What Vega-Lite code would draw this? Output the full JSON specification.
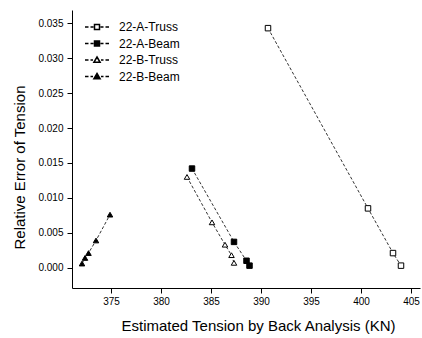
{
  "$schema": "https://vega.github.io/schema/vega-lite/v6.json",
  "width": 348,
  "height": 278,
  "autosize": "none",
  "padding": {"left": 72, "top": 10, "right": 2, "bottom": 50},
  "background": "white",
  "config": {
    "view": {"stroke": null},
    "font": "Liberation Sans",
    "axis": {"grid": false, "domainColor": "black", "tickColor": "black", "labelColor": "black", "titleColor": "black", "titleFontWeight": "normal"}
  },
  "data": {"values": [
    {"series": "22-A-Truss", "x": 390.7, "y": 0.0343},
    {"series": "22-A-Truss", "x": 400.7, "y": 0.0085},
    {"series": "22-A-Truss", "x": 403.2, "y": 0.0021},
    {"series": "22-A-Truss", "x": 404.0, "y": 0.0003},
    {"series": "22-A-Beam", "x": 383.1, "y": 0.0142},
    {"series": "22-A-Beam", "x": 387.3, "y": 0.0037},
    {"series": "22-A-Beam", "x": 388.55, "y": 0.0010},
    {"series": "22-A-Beam", "x": 388.85, "y": 0.0003},
    {"series": "22-B-Truss", "x": 382.6, "y": 0.0130},
    {"series": "22-B-Truss", "x": 385.1, "y": 0.0065},
    {"series": "22-B-Truss", "x": 386.4, "y": 0.0033},
    {"series": "22-B-Truss", "x": 387.05, "y": 0.0018},
    {"series": "22-B-Truss", "x": 387.3, "y": 0.0007},
    {"series": "22-B-Beam", "x": 372.1, "y": 0.0006},
    {"series": "22-B-Beam", "x": 372.4, "y": 0.0014},
    {"series": "22-B-Beam", "x": 372.75, "y": 0.0021},
    {"series": "22-B-Beam", "x": 373.5, "y": 0.0039},
    {"series": "22-B-Beam", "x": 374.9, "y": 0.0076}
  ]},
  "encoding": {
    "x": {"field": "x", "type": "quantitative",
      "scale": {"domain": [371.1, 405.9], "nice": false, "zero": false},
      "axis": {"values": [375, 380, 385, 390, 395, 400, 405], "title": "Estimated Tension by Back Analysis (KN)", "titleFontSize": 15, "labelFontSize": 10, "tickSize": 5, "labelPadding": 3, "titleX": 186, "titleY": 37, "titleBaseline": "middle", "titleAlign": "center"}},
    "y": {"field": "y", "type": "quantitative",
      "scale": {"domain": [-0.0029, 0.0369], "nice": false, "zero": false},
      "axis": {"values": [0, 0.005, 0.01, 0.015, 0.02, 0.025, 0.03, 0.035], "format": ".3f", "title": "Relative Error of Tension", "titleFontSize": 15, "labelFontSize": 10, "tickSize": 5, "labelPadding": 4, "titleX": -53, "titleY": 157, "titleBaseline": "middle", "titleAlign": "center"}}
  },
  "layer": [
    {
      "mark": {"type": "line", "strokeWidth": 1, "strokeDash": [3, 2], "color": "#333"},
      "encoding": {"detail": {"field": "series"}, "order": {"field": "x"}}
    },
    {
      "mark": {"type": "point", "filled": false, "size": 30, "strokeWidth": 1, "opacity": 1},
      "encoding": {
        "shape": {"field": "series", "type": "nominal",
          "scale": {"domain": ["22-A-Truss", "22-A-Beam", "22-B-Truss", "22-B-Beam"], "range": ["square", "square", "triangle-up", "triangle-up"]},
          "legend": null},
        "fill": {"field": "series", "type": "nominal",
          "scale": {"domain": ["22-A-Truss", "22-A-Beam", "22-B-Truss", "22-B-Beam"], "range": ["white", "black", "white", "black"]},
          "legend": null},
        "stroke": {"value": "black"}
      }
    },
    {
      "mark": {"type": "point", "filled": true, "size": 100, "strokeWidth": 1, "opacity": 0},
      "encoding": {
        "fill": {"field": "series", "type": "nominal",
          "scale": {"domain": ["22-A-Truss", "22-A-Beam", "22-B-Truss", "22-B-Beam"], "range": ["white", "black", "white", "black"]},
          "legend": {"title": null, "orient": "none", "legendX": 19, "legendY": 11, "padding": 0, "labelFontSize": 12, "symbolSize": 100, "rowPadding": 4.5, "labelOffset": 16, "symbolOpacity": 1,
            "encode": {"symbols": {"stroke": {"value": "black"}, "strokeWidth": {"value": 1}}}}},
        "shape": {"field": "series", "type": "nominal",
          "scale": {"domain": ["22-A-Truss", "22-A-Beam", "22-B-Truss", "22-B-Beam"],
            "range": [
              "M-2.4,0H-1.7M-1.3,0H-0.7M0.7,0H1.3M1.7,0H2.4M-0.5,-0.5H0.5V0.5H-0.5Z",
              "M-2.4,0H-1.7M-1.3,0H-0.7M0.7,0H1.3M1.7,0H2.4M-0.5,-0.5H0.5V0.5H-0.5Z",
              "M-2.4,0H-1.7M-1.3,0H-0.8M0.8,0H1.3M1.7,0H2.4M0,-0.6L0.62,0.45H-0.62Z",
              "M-2.4,0H-1.7M-1.3,0H-0.8M0.8,0H1.3M1.7,0H2.4M0,-0.6L0.62,0.45H-0.62Z"
            ]},
          "legend": {"title": null, "orient": "none", "legendX": 19, "legendY": 11, "padding": 0, "labelFontSize": 12, "symbolSize": 100, "rowPadding": 4.5, "labelOffset": 16, "symbolOpacity": 1,
            "encode": {"symbols": {"stroke": {"value": "black"}, "strokeWidth": {"value": 1}}}}},
        "stroke": {"value": "black"}
      }
    }
  ],
  "resolve": {"scale": {"shape": "independent", "fill": "independent"}, "legend": {"shape": "independent", "fill": "independent"}}
}
